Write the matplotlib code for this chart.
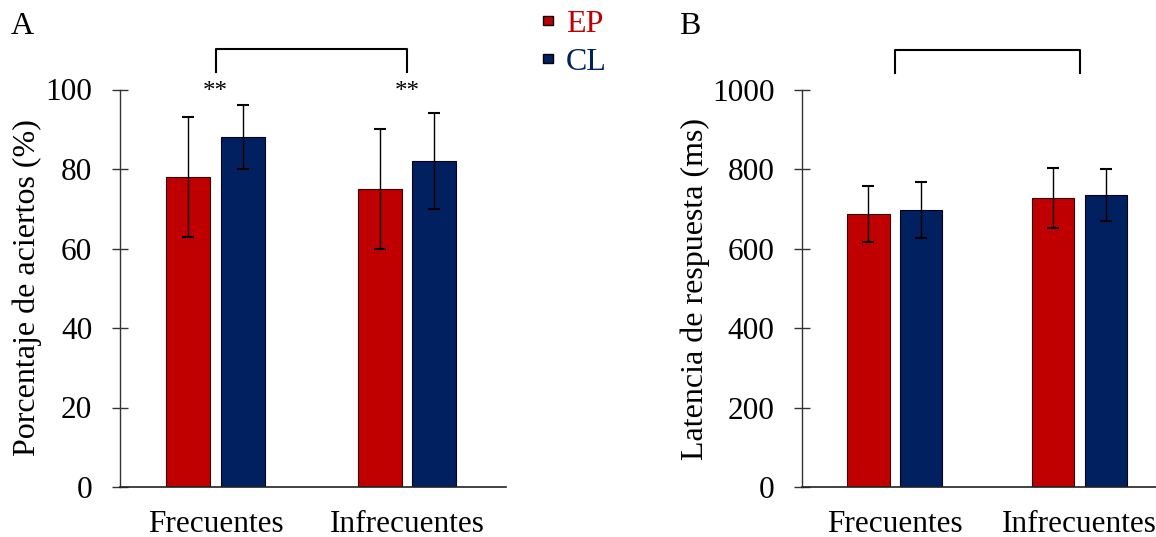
import matplotlib
matplotlib.use("Agg")
import matplotlib.pyplot as plt
import numpy as np

# ---- data ----
categories = ["Frecuentes", "Infrecuentes"]
groups = ["EP", "CL"]
acc_EP = [78, 75]
acc_EP_err = [15, 15]
acc_CL = [88, 82]
acc_CL_err = [8, 12]
lat_EP = [688, 728]
lat_EP_err = [70, 76]
lat_CL = [698, 735]
lat_CL_err = [70, 65]
acc_ticks = [0, 20, 40, 60, 80, 100]
lat_ticks = [0, 200, 400, 600, 800, 1000]

RED = "#C00000"
NAVY = "#002060"
FONT = "Liberation Serif"
plt.rcParams['font.family'] = [FONT, 'DejaVu Serif']

W, H = 1156, 537
fig = plt.figure(figsize=(W / 100, H / 100), dpi=100)


def px_axes(left, right, top, bottom):
    return fig.add_axes([left / W, 1 - bottom / H, (right - left) / W, (bottom - top) / H])


axA = px_axes(120, 506.4, 89.5, 487)
axB = px_axes(802.4, 1156, 90, 487)

x = np.arange(len(categories))
off = 0.1425
bw = 0.23


def draw(ax, ep, ep_err, cl, cl_err, ticks, xlim):
    b1 = ax.bar(x - off, ep, bw, color=RED, edgecolor="#3a0000", linewidth=0.8, label=groups[0])
    b2 = ax.bar(x + off, cl, bw, color=NAVY, edgecolor="#000018", linewidth=0.8, label=groups[1])
    ax.errorbar(x - off, ep, yerr=ep_err, fmt="none", ecolor="black", elinewidth=1.0, capsize=4, capthick=1.5)
    ax.errorbar(x + off, cl, yerr=cl_err, fmt="none", ecolor="black", elinewidth=1.0, capsize=4, capthick=1.5)
    ax.set_xlim(*xlim)
    ax.set_ylim(ticks[0], ticks[-1])
    ax.set_yticks(ticks)
    ax.set_yticklabels([str(t) for t in ticks])
    ax.set_xticks(x)
    ax.set_xticklabels(categories)
    for s in ["top", "right"]:
        ax.spines[s].set_visible(False)
    ax.spines["left"].set_color("#333333")
    ax.spines["bottom"].set_color("#222222")
    ax.spines["left"].set_linewidth(1.0)
    ax.spines["bottom"].set_linewidth(1.2)
    ax.tick_params(axis="y", direction="inout", length=12, width=1.0, pad=14, labelsize=22.5, color="#333333")
    ax.tick_params(axis="x", length=0, pad=16.5, labelsize=22.5)
    return b1, b2


b1, b2 = draw(axA, acc_EP, acc_EP_err, acc_CL, acc_CL_err, acc_ticks, (-0.5, 1.52))
draw(axB, lat_EP, lat_EP_err, lat_CL, lat_CL_err, lat_ticks, (-0.5, 1.414))

# brackets
axA.plot([0, 0, 1, 1], [104.5, 110.1, 110.1, 104.5], color="black", lw=1.5, clip_on=False)
axB.plot([0, 0, 1, 1], [1044, 1100.6, 1100.6, 1044], color="black", lw=1.5, clip_on=False)
for xi in x:
    axA.text(xi, 99.3, "**", ha="center", va="center", fontsize=18, clip_on=False)

# y labels
fig.text(27 / W, 1 - 288 / H, "Porcentaje de aciertos (%)", rotation=90, ha="center", va="center", fontsize=23)
fig.text(695 / W, 1 - 289 / H, "Latencia de respuesta (ms)", rotation=90, ha="center", va="center", fontsize=23)

# panel letters
fig.text(22 / W, 1 - 26 / H, "A", ha="center", va="center", fontsize=23)
fig.text(690 / W, 1 - 26 / H, "B", ha="center", va="center", fontsize=23)

# legend
leg = fig.legend(handles=[b1, b2], labels=groups, loc="upper left",
                 bbox_to_anchor=(524 / W, 1 + 9 / H), frameon=False, fontsize=23,
                 handlelength=0.32, handleheight=0.1, handletextpad=0.4, labelspacing=0.28,
                 borderpad=0.1)
for txt, c in zip(leg.get_texts(), [RED, NAVY]):
    txt.set_color(c)
for h in leg.legend_handles:
    h.set_edgecolor("black")
    h.set_linewidth(1.0)

fig.savefig("out.png", dpi=100)
